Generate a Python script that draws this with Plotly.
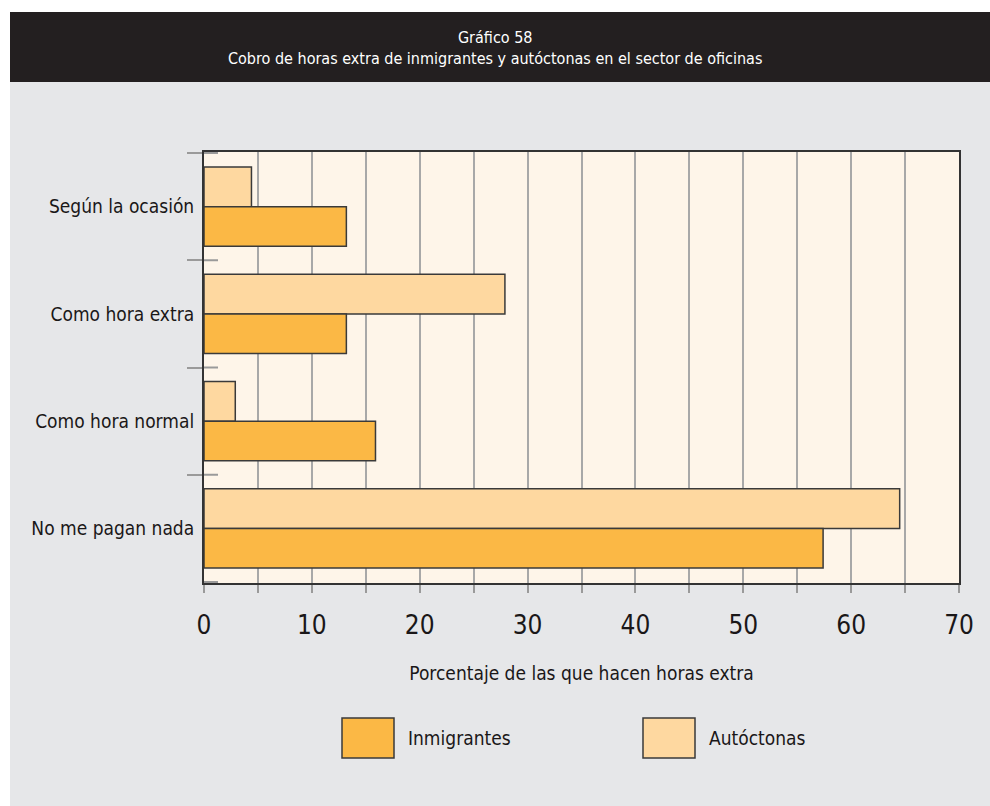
import plotly.graph_objects as go

categories = ["Según la ocasión", "Como hora extra", "Como hora normal", "No me pagan nada"]
inmigrantes = [13.2, 13.2, 15.9, 57.4]
autoctonas = [4.4, 27.9, 2.9, 64.5]
series_names = ["Inmigrantes", "Autóctonas"]
x_ticks = [0, 10, 20, 30, 40, 50, 60, 70]
title_lines = ["Gráfico 58", "Cobro de horas extra de inmigrantes y autóctonas en el sector de oficinas"]
x_title = "Porcentaje de las que hacen horas extra"

C_IMM = "#fbb845"
C_AUT = "#fed8a0"
EDGE = "#3a3a3a"
FONT = "Liberation Sans Narrow, DejaVu Sans Condensed, Roboto, sans-serif"
TXT = "#1a1718"

W, H = 990, 806
L, R, T, B = 204, 31, 152, 223
pw, ph = W - L - R, H - T - B

def px(x):
    return (x - L) / pw

def py(y):
    return (H - B - y) / ph

fig = go.Figure()
fig.add_trace(go.Bar(y=categories, x=autoctonas, orientation="h", name=series_names[1],
                     marker=dict(color=C_AUT, line=dict(color=EDGE, width=1.5)), showlegend=False))
fig.add_trace(go.Bar(y=categories, x=inmigrantes, orientation="h", name=series_names[0],
                     marker=dict(color=C_IMM, line=dict(color=EDGE, width=1.5)), showlegend=False))

shapes = []
# white page margins
shapes.append(dict(type="rect", xref="paper", yref="paper", x0=px(0), x1=px(10), y0=py(H), y1=py(0),
                   fillcolor="white", line=dict(width=0), layer="below"))
shapes.append(dict(type="rect", xref="paper", yref="paper", x0=px(0), x1=px(W), y0=py(12), y1=py(0),
                   fillcolor="white", line=dict(width=0), layer="below"))
# title band
shapes.append(dict(type="rect", xref="paper", yref="paper", x0=px(10), x1=px(W), y0=py(82), y1=py(12),
                   fillcolor="#231f20", line=dict(width=0), layer="below"))
# inner part of the category boundary ticks
for i in range(len(categories) + 1):
    shapes.append(dict(type="line", xref="paper", yref="y", x0=0, x1=px(218), y0=i - 0.5, y1=i - 0.5,
                       line=dict(color="#9a9a9a", width=2), layer="above"))

# legend (drawn manually)
leg = [(series_names[0], C_IMM, 342), (series_names[1], C_AUT, 643)]
annotations = []
for name, col, x0 in leg:
    shapes.append(dict(type="rect", xref="paper", yref="paper", x0=px(x0), x1=px(x0 + 52),
                       y0=py(758), y1=py(718), fillcolor=col, line=dict(color=EDGE, width=1.5)))
    annotations.append(dict(xref="paper", yref="paper", x=px(x0 + 64), y=py(738), text=name,
                            showarrow=False, xanchor="left", yanchor="middle",
                            font=dict(family=FONT, size=19, color=TXT)))

annotations.append(dict(xref="paper", yref="paper", x=px(495), y=py(48),
                        text="<br>".join(title_lines), showarrow=False, xanchor="center", yanchor="middle",
                        font=dict(family=FONT, size=16, color="white")))

fig.update_layout(
    width=W, height=H,
    margin=dict(l=L, r=R, t=T, b=B, pad=0),
    paper_bgcolor="#e6e7e9",
    plot_bgcolor="#fef5e9",
    barmode="group", bargap=0.26, bargroupgap=0,
    font=dict(family=FONT, color=TXT),
    shapes=shapes, annotations=annotations,
    xaxis=dict(range=[0, 70], tickvals=x_ticks, ticktext=[str(v) for v in x_ticks],
               showgrid=True, gridcolor="#a8a8a8", gridwidth=1.5,
               minor=dict(dtick=5, showgrid=True, gridcolor="#a8a8a8", gridwidth=1.5,
                          ticks="outside", ticklen=8, tickcolor="#9a9a9a", tickwidth=1.5),
               ticks="outside", ticklen=8, tickcolor="#9a9a9a", tickwidth=1.5,
               showline=True, linecolor="#333333", linewidth=2, mirror=True,
               zeroline=False, tickfont=dict(size=26, color=TXT), ticklabelstandoff=10,
               title=dict(text=x_title, font=dict(size=19, color=TXT), standoff=27)),
    yaxis=dict(type="category", categoryorder="array", categoryarray=categories,
               autorange="reversed", tickson="boundaries", ticks="outside", ticklen=15,
               tickcolor="#9a9a9a", tickwidth=2, showgrid=False,
               showline=True, linecolor="#333333", linewidth=2, mirror=True,
               tickfont=dict(size=19, color=TXT), ticklabelstandoff=4),
)

fig.write_html("out.html", config={"displayModeBar": False},
               post_script="document.body.style.margin='0';")
